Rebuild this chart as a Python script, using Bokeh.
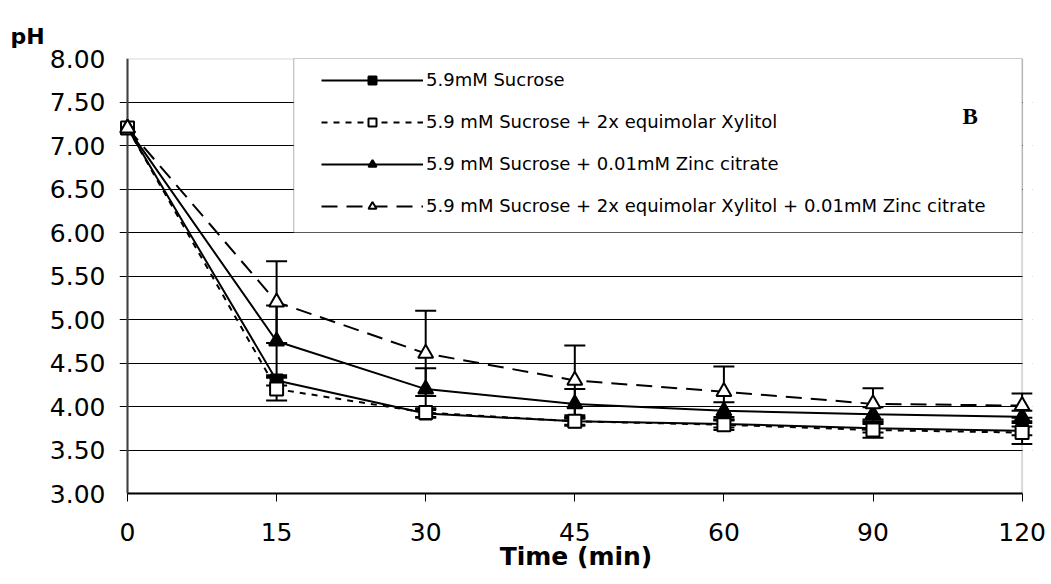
from bokeh.plotting import figure
from bokeh.models import (Range1d, FixedTicker, Whisker, TeeHead, ColumnDataSource,
                          BoxAnnotation, Label, Legend, LegendItem, PrintfTickFormatter, Span)
from bokeh.embed import file_html
from bokeh.resources import INLINE

# ---------------- data ----------------
times = ["0", "15", "30", "45", "60", "90", "120"]
y_ticks = [3.0, 3.5, 4.0, 4.5, 5.0, 5.5, 6.0, 6.5, 7.0, 7.5, 8.0]

labels = [
    "5.9mM Sucrose",
    "5.9 mM Sucrose + 2x equimolar Xylitol",
    "5.9 mM Sucrose + 0.01mM Zinc citrate",
    "5.9 mM Sucrose + 2x equimolar Xylitol + 0.01mM Zinc citrate",
]
sucrose = [7.20, 4.30, 3.92, 3.83, 3.80, 3.75, 3.72]
sucrose_xyl = [7.20, 4.20, 3.93, 3.83, 3.79, 3.73, 3.70]
sucrose_zn = [7.20, 4.75, 4.20, 4.03, 3.95, 3.91, 3.88]
sucrose_xyl_zn = [7.20, 5.20, 4.61, 4.30, 4.17, 4.03, 4.01]

err_sucrose = [0.0, 0.06, 0.05, 0.04, 0.04, 0.05, 0.05]
err_sucrose_xyl = [0.0, 0.13, 0.05, 0.05, 0.06, 0.09, 0.13]
err_sucrose_zn = [0.0, 0.41, 0.24, 0.17, 0.10, 0.08, 0.07]
err_sucrose_xyl_zn = [0.0, 0.47, 0.49, 0.40, 0.29, 0.18, 0.14]

# ---------------- figure ----------------
x = list(range(len(times)))
last = len(times) - 1
PX = 149.1  # pixels per category step
pad_l, pad_r = 8 / PX, 10.4 / PX

p = figure(width=1051, height=584, output_backend="svg", toolbar_location=None,
           x_range=Range1d(-pad_l, last + pad_r), y_range=Range1d(y_ticks[0], y_ticks[-1]),
           min_border_left=119, min_border_right=19, min_border_top=58, min_border_bottom=91)
p.outline_line_color = None
p.background_fill_color = "white"
p.border_fill_color = "white"

FONT = "DejaVu Sans"

# title used as the "pH" unit label
p.title.text = "pH"
p.title.text_font = FONT
p.title.text_font_style = "bold"
p.title.text_font_size = "22px"
p.title.text_color = "black"
p.title.align = "left"
p.title.offset = -109
p.title.standoff = 20
p.title.vertical_align = "bottom"

# axes
p.xaxis.ticker = FixedTicker(ticks=x)
p.xaxis.major_label_overrides = {i: t for i, t in enumerate(times)}
p.xaxis.bounds = (0, last)
p.xaxis.major_tick_out = 8
p.xaxis.major_tick_in = 0
p.xaxis.axis_line_width = 2
p.xaxis.axis_line_color = "black"
p.xaxis.major_tick_line_color = "black"
p.xaxis.major_label_standoff = 21
p.xaxis.axis_label = "Time (min)"
p.xaxis.axis_label_text_font = FONT
p.xaxis.axis_label_text_font_style = "bold"
p.xaxis.axis_label_text_font_size = "25px"
p.xaxis.axis_label_text_color = "black"
p.xaxis.axis_label_standoff = -2

p.yaxis.ticker = FixedTicker(ticks=y_ticks)
p.yaxis.formatter = PrintfTickFormatter(format="%.2f")
p.yaxis.axis_line_color = None
p.yaxis.major_tick_line_color = None
p.yaxis.major_tick_out = 0
p.yaxis.major_tick_in = 0
p.yaxis.major_label_standoff = 14

for ax in (p.xaxis, p.yaxis):
    ax.minor_tick_line_color = None
    ax.major_label_text_font = FONT
    ax.major_label_text_font_size = "25px"
    ax.major_label_text_color = "black"

p.xgrid.visible = False
p.ygrid.ticker = FixedTicker(ticks=y_ticks)
p.ygrid.grid_line_color = "black"
p.ygrid.grid_line_width = 1

# cover the right padding, draw plot-area border, legend box and y axis line
p.add_layout(BoxAnnotation(left=last + 0.004, right=last + 3 * pad_r, bottom=y_ticks[0] - 1,
                           top=y_ticks[-1] + 1, fill_color="white", fill_alpha=1,
                           line_color=None, level="underlay"))
p.add_layout(BoxAnnotation(left=0, right=last, bottom=y_ticks[0], top=y_ticks[-1],
                           fill_alpha=0, line_color="#808080", line_width=2, level="underlay"))
p.add_layout(BoxAnnotation(left=1.115, right=last, bottom=6.0, top=y_ticks[-1],
                           fill_color="white", fill_alpha=1, line_color="black", line_width=1,
                           level="underlay"))
p.add_layout(Span(location=0, dimension="height", line_color="#404040", line_width=2,
                  level="underlay"))

series = [
    (sucrose, err_sucrose, "solid", "square", "black", 12),
    (sucrose_xyl, err_sucrose_xyl, "6 6", "square", "white", 13),
    (sucrose_zn, err_sucrose_zn, "solid", "triangle", "black", 15),
    (sucrose_xyl_zn, err_sucrose_xyl_zn, "16 9", "triangle", "white", 15),
]

# error bars
for vals, errs, *_ in series:
    xs = [xi for xi, e in zip(x, errs) if e > 0]
    up = [v + e for v, e in zip(vals, errs) if e > 0]
    lo = [v - e for v, e in zip(vals, errs) if e > 0]
    src = ColumnDataSource(dict(x=xs, upper=up, lower=lo))
    p.add_layout(Whisker(base="x", upper="upper", lower="lower", source=src, dimension="height",
                         line_color="black", line_width=2, level="underlay",
                         upper_head=TeeHead(size=21, line_color="black", line_width=2),
                         lower_head=TeeHead(size=21, line_color="black", line_width=2)))

items = []
for (vals, errs, dash, marker, fill, size), lab in zip(series, labels):
    lr = p.line(x, vals, line_color="black", line_width=2, line_dash=dash)
    sr = p.scatter(x, vals, marker=marker, size=size, fill_color=fill, line_color="black",
                   line_width=2)
    items.append(LegendItem(label=lab, renderers=[lr, sr]))

legend = Legend(items=items, location=(202, 277), padding=0, margin=0, spacing=21,
                glyph_width=102, glyph_height=20, label_height=20, label_standoff=3,
                label_text_font=FONT, label_text_font_size="18px", label_text_color="black",
                border_line_color=None, background_fill_alpha=0)
p.add_layout(legend)

p.add_layout(Label(x=5.600, y=7.337, text="B", text_font="Liberation Serif",
                   text_font_style="bold", text_font_size="23px", text_color="black",
                   text_baseline="alphabetic"))

open("out.html", "w").write(file_html(p, INLINE))
